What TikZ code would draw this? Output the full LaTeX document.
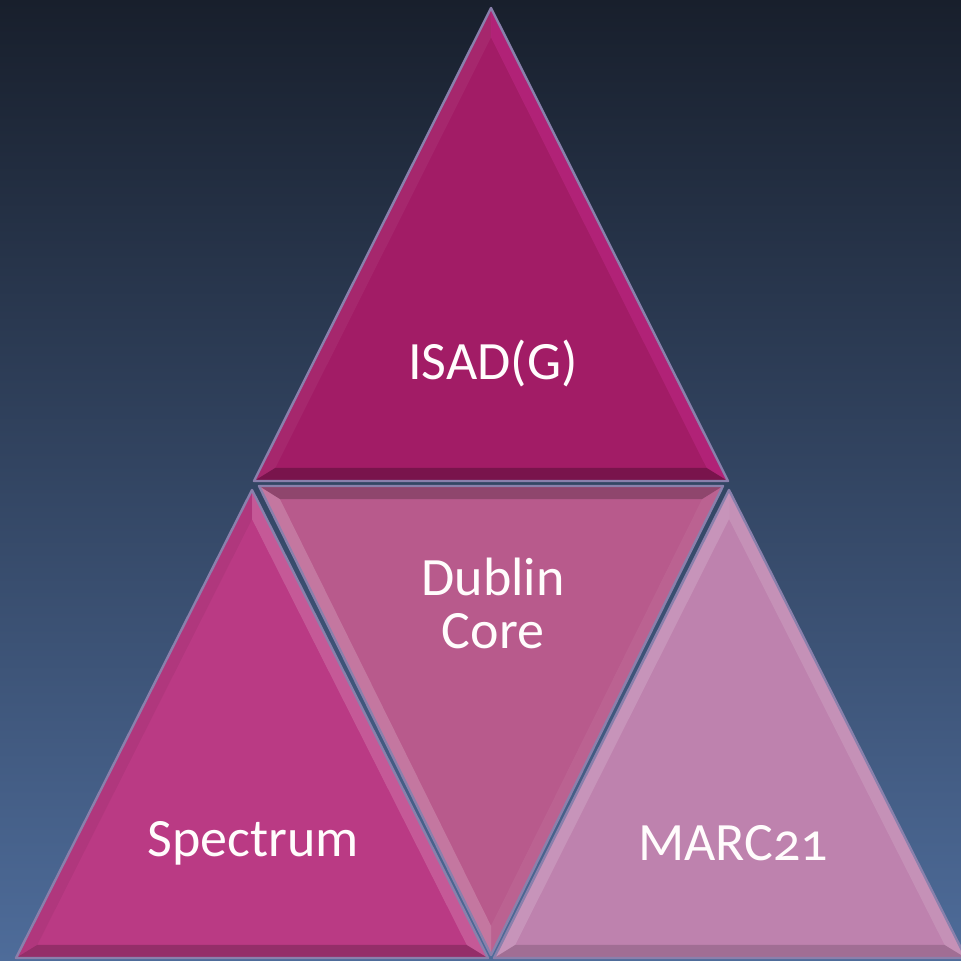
\documentclass[tikz,border=0pt]{standalone}
\usepackage{fontspec}
\setmainfont{Carlito}[Numbers=OldStyle]
\usetikzlibrary{calc}
\definecolor{bgtop}{RGB}{24,31,44}
\definecolor{bgbot}{RGB}{78,108,154}
\definecolor{isadred}{RGB}{162,28,102}
\definecolor{specpink}{RGB}{186,58,132}
\definecolor{dublinpink}{RGB}{184,90,140}
\definecolor{marclilac}{RGB}{190,130,174}
\definecolor{rimgray}{RGB}{138,128,172}
\definecolor{glowpink}{RGB}{214,50,160}

% #1-#3 corners, #4 inner centre, #5 fill, #6-#8 rim styles (sides 12, 23, 31)
\newcommand{\facet}[8]{%
  \fill[#5] (#1) -- (#2) -- (#3) -- cycle;
  \fill[#6] (#1) -- (#2) -- ($(#4)!0.91!(#2)$) -- ($(#4)!0.91!(#1)$) -- cycle;
  \fill[#7] (#2) -- (#3) -- ($(#4)!0.91!(#3)$) -- ($(#4)!0.91!(#2)$) -- cycle;
  \fill[#8] (#3) -- (#1) -- ($(#4)!0.91!(#1)$) -- ($(#4)!0.91!(#3)$) -- cycle;
  \draw[rim] (#1) -- (#2) -- (#3) -- cycle;
}

\begin{document}
\begin{tikzpicture}[
    x=0.5pt, y=-0.5pt,
    rim/.style={draw=rimgray, line width=1.2pt, line join=round},
    lit/.style={fill=white, fill opacity=#1},
    lit/.default=0.15,
    dark/.style={fill=black, fill opacity=#1},
    dark/.default=0.2,
    lbl/.style={text=white!95!pink, font=\fontsize{27}{26.5}\selectfont, align=center},
]
    % background
    \shade[top color=bgtop, bottom color=bgbot] (0,0) rectangle (961,961);
    \useasboundingbox (0,0) rectangle (961,961);
    \clip (0,0) rectangle (961,961);

    % corners of the four pieces
    \coordinate (isadA) at (491,8);   \coordinate (isadB) at (254,481); \coordinate (isadC) at (728,481);
    \coordinate (isadI) at (491,335);
    \coordinate (specA) at (252,490); \coordinate (specB) at (16,958);  \coordinate (specC) at (488,958);
    \coordinate (specI) at (252,813);
    \coordinate (dublA) at (491,955); \coordinate (dublB) at (259,486); \coordinate (dublC) at (723,486);
    \coordinate (dublI) at (491,631);
    \coordinate (marcA) at (729,490); \coordinate (marcB) at (494,958); \coordinate (marcC) at (966,958);
    \coordinate (marcI) at (729,813);

    % Top piece
    \facet{isadA}{isadB}{isadC}{isadI}{isadred}{lit=0.05}{dark=0.25}{glowpink, fill opacity=0.3}
    % Bottom row
    \facet{specA}{specB}{specC}{specI}{specpink}{dark=0.05}{dark=0.2}{lit=0.16}
    \facet{dublA}{dublB}{dublC}{dublI}{dublinpink}{lit=0.18}{dark=0.22}{lit=0.05}
    \facet{marcA}{marcB}{marcC}{marcI}{marclilac}{lit=0.15}{dark=0.15}{lit=0.12}

    % Labels
    \node[lbl] (isad) at (493,363) {ISAD(G)};
    \node[lbl] (dublin) at (493,603) {Dublin\\Core};
    \node[lbl] (spectrum) at (253,843) {Spectrum};
    \node[lbl] (marc) at (733,843) {MARC21};
\end{tikzpicture}
\end{document}
